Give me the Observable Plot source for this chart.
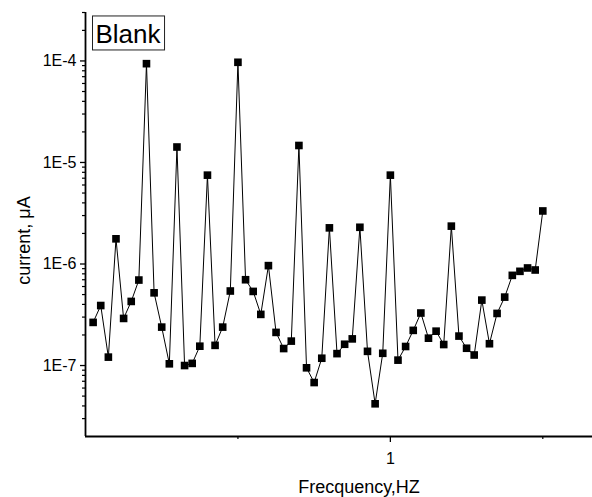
<!DOCTYPE html>
<html><head><meta charset="utf-8">
<script src="https://cdn.jsdelivr.net/npm/d3@7"></script>
<script src="https://cdn.jsdelivr.net/npm/@observablehq/plot@0.6"></script>
<style>
html,body{margin:0;padding:0;background:#fff}
svg{font-family:"Liberation Sans",Arial,sans-serif}
</style>
</head><body><div id="chart"></div>
<script>
const frequency = [0.025,0.05,0.075,0.1,0.125,0.15,0.175,0.2,0.225,0.25,
  0.275,0.3,0.325,0.35,0.375,0.4,0.425,0.45,0.475,0.5,
  0.525,0.55,0.575,0.6,0.625,0.65,0.675,0.7,0.725,0.75,
  0.775,0.8,0.825,0.85,0.875,0.9,0.925,0.95,0.975,1.0,
  1.025,1.05,1.075,1.1,1.125,1.15,1.175,1.2,1.225,1.25,
  1.275,1.3,1.325,1.35,1.375,1.4,1.425,1.45,1.475,1.5];
const current = [2.66e-7,3.9e-7,1.21e-7,1.77e-6,2.91e-7,4.28e-7,6.95e-7,9.4e-5,5.2e-7,2.39e-7,
  1.04e-7,1.42e-5,1.0e-7,1.05e-7,1.55e-7,7.5e-6,1.58e-7,2.39e-7,5.42e-7,9.7e-5,
  7.0e-7,5.37e-7,3.19e-7,9.64e-7,2.12e-7,1.47e-7,1.74e-7,1.47e-5,9.5e-8,6.8e-8,
  1.18e-7,2.27e-6,1.31e-7,1.62e-7,1.83e-7,2.3e-6,1.38e-7,4.2e-8,1.32e-7,7.5e-6,
  1.13e-7,1.54e-7,2.22e-7,3.29e-7,1.86e-7,2.18e-7,1.61e-7,2.36e-6,1.95e-7,1.48e-7,
  1.27e-7,4.41e-7,1.64e-7,3.26e-7,4.72e-7,7.73e-7,8.47e-7,9.14e-7,8.73e-7,3.33e-6];
const yMajorTicks = [1e-7,1e-6,1e-5,1e-4];
const yMinorTicks = [3e-8,4e-8,5e-8,6e-8,7e-8,8e-8,9e-8,
  2e-7,3e-7,4e-7,5e-7,6e-7,7e-7,8e-7,9e-7,
  2e-6,3e-6,4e-6,5e-6,6e-6,7e-6,8e-6,9e-6,
  2e-5,3e-5,4e-5,5e-5,6e-5,7e-5,8e-5,9e-5,
  2e-4,3e-4];
const xMajorTicks = [1];
const xMinorTicks = [0.5,1.5];
const seriesName = "Blank";
const xLabel = "Frecquency,HZ";
const yLabel = "current, μA";

const data = frequency.map((f,i)=>({f, c: current[i]}));

const chart = Plot.plot({
  width: 592, height: 497,
  marginLeft: 85, marginRight: 0, marginTop: 12, marginBottom: 61,
  style: {fontFamily: '"Liberation Sans",Arial,sans-serif', fontSize: "16px", color: "#000", background: "#fff"},
  x: {type: "linear", domain: [0, 1.663]},
  y: {type: "log", domain: [2e-8, 3e-4]},
  marks: [
    Plot.axisY(yMajorTicks, {tickSize: 5, tickPadding: 4, tickFormat: d => "1E" + Math.round(Math.log10(d)), label: null, fontSize: 16, strokeWidth: 1.3, fill: "#000"}),
    Plot.axisY(yMinorTicks, {tickSize: 3, tickFormat: () => "", label: null, strokeWidth: 1.2}),
    Plot.axisX(xMajorTicks, {tickSize: 6, tickPadding: 10, tickFormat: d => String(d), label: null, fontSize: 16, strokeWidth: 1.3, fill: "#000"}),
    Plot.axisX(xMinorTicks, {tickSize: 3, tickFormat: () => "", label: null, strokeWidth: 1.2}),
    Plot.ruleX([0], {strokeWidth: 1.8, stroke: "#000"}),
    Plot.ruleY([2e-8], {strokeWidth: 1.8, stroke: "#000"}),
    Plot.line(data, {x: "f", y: "c", stroke: "#000", strokeWidth: 1}),
    Plot.dot(data, {x: "f", y: "c", symbol: "square", r: 4.3, fill: "#000", stroke: "none"}),
    Plot.text([seriesName], {frameAnchor: "top-left", dx: 10, dy: 12, fontSize: 26, textAnchor: "start", lineAnchor: "top", fill: "#000", className: "legend-text"}),
    Plot.text([yLabel], {frameAnchor: "left", rotate: -90, dx: -61, dy: 16, textAnchor: "middle", lineAnchor: "middle", fontSize: 18, fill: "#000"}),
    Plot.text([xLabel], {frameAnchor: "bottom", dx: 20, dy: 51, textAnchor: "middle", lineAnchor: "middle", fontSize: 18, fill: "#000"})
  ]
});
document.getElementById("chart").appendChild(chart);

// box around the legend text, in the svg's own coordinates
const t = chart.querySelector("g.legend-text text");
if (t) {
  const bb = t.getBBox();
  const pt = chart.createSVGPoint();
  const toRoot = (x, y) => { pt.x = x; pt.y = y; return pt.matrixTransform(t.getCTM()); };
  const p0 = toRoot(bb.x, bb.y);
  const p1 = toRoot(bb.x + bb.width, bb.y + bb.height);
  d3.select(chart).append("rect")
    .attr("x", p0.x - 3).attr("y", p0.y - 3)
    .attr("width", p1.x - p0.x + 6).attr("height", p1.y - p0.y + 4)
    .attr("fill", "none").attr("stroke", "#222").attr("stroke-width", 1);
}
</script>
</body></html>
